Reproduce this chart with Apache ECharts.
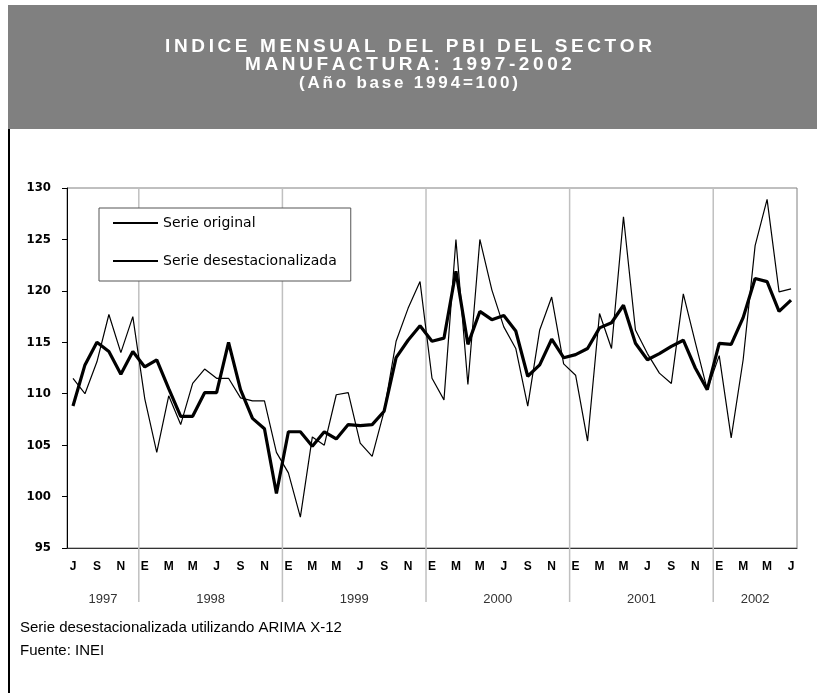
<!DOCTYPE html>
<html>
<head>
<meta charset="utf-8">
<script src="https://cdn.jsdelivr.net/npm/echarts@6/dist/echarts.min.js"></script>
<style>
html, body { margin: 0; padding: 0; background: #fff; }
#chart { width: 817px; height: 693px; }
</style>
</head>
<body>
<div id="chart"></div>
<script>
// iniciales de mes, jul 1997 - jul 2002
const meses = [
  'J', 'A', 'S', 'O', 'N', 'D',
  'E', 'F', 'M', 'A', 'M', 'J', 'J', 'A', 'S', 'O', 'N', 'D',
  'E', 'F', 'M', 'A', 'M', 'J', 'J', 'A', 'S', 'O', 'N', 'D',
  'E', 'F', 'M', 'A', 'M', 'J', 'J', 'A', 'S', 'O', 'N', 'D',
  'E', 'F', 'M', 'A', 'M', 'J', 'J', 'A', 'S', 'O', 'N', 'D',
  'E', 'F', 'M', 'A', 'M', 'J', 'J'
];
const anios = ['1997', '1998', '1999', '2000', '2001', '2002'];
// primer indice (mes) de cada anio
const inicioAnio = [0, 6, 18, 30, 42, 54];

const serieOriginal = [
  111.5, 110.0, 113.1, 117.7, 114.0, 117.5,
  109.5, 104.3, 109.8, 107.0, 111.0, 112.4, 111.5, 111.5, 109.6, 109.3, 109.3, 104.3,
  102.3, 98.0, 105.8, 105.0, 109.9, 110.1, 105.2, 103.9, 108.3, 115.1, 118.3, 120.9,
  111.5, 109.4, 125.0, 110.9, 125.0, 120.1, 116.5, 114.4, 108.8, 116.2, 119.4, 112.9,
  111.8, 105.4, 117.8, 114.4, 127.2, 116.2, 113.9, 112.0, 111.0, 119.7, 115.0, 110.4,
  113.7, 105.7, 113.3, 124.4, 128.9, 119.9, 120.2
];
const serieDesest = [
  108.8, 112.8, 115.0, 114.1, 111.9, 114.1,
  112.6, 113.3, 110.5, 107.8, 107.8, 110.1, 110.1, 115.0, 110.4, 107.6, 106.6, 100.3,
  106.3, 106.3, 104.9, 106.3, 105.6, 107.0, 106.9, 107.0, 108.3, 113.5, 115.2, 116.6,
  115.1, 115.4, 121.9, 114.8, 118.0, 117.2, 117.6, 116.1, 111.7, 112.8, 115.3, 113.5,
  113.8, 114.4, 116.4, 116.9, 118.6, 114.9, 113.3, 113.9, 114.6, 115.2, 112.5, 110.4,
  114.9, 114.8, 117.4, 121.2, 120.9, 118.0, 119.1
];

const titulo1 = 'INDICE MENSUAL DEL PBI DEL SECTOR';
const titulo2 = 'MANUFACTURA: 1997-2002';
const titulo3 = '(Año base 1994=100)';
const nota1 = 'Serie desestacionalizada utilizando ARIMA X-12';
const nota2 = 'Fuente: INEI';

// texto con espaciado entre letras (rich text)
function espaciado(s) {
  return s.split('').map(c => '{c|' + c + '}').join('');
}
function estiloTitulo(size, pad) {
  return {
    c: {
      color: '#fff',
      fontFamily: 'Liberation Sans, Arial, sans-serif',
      fontWeight: 'bold',
      fontSize: size,
      padding: [0, pad, 0, pad]
    }
  };
}

const chart = echarts.init(document.getElementById('chart'));

const option = {
  animation: false,
  backgroundColor: '#fff',
  title: [
    { text: espaciado(titulo1), left: 'center', top: 32, textStyle: { rich: estiloTitulo(19, 1.8) } },
    { text: espaciado(titulo2), left: 'center', top: 50, textStyle: { rich: estiloTitulo(19, 1.8) } },
    { text: espaciado(titulo3), left: 'center', top: 70, textStyle: { rich: estiloTitulo(17, 1.4) } }
  ],
  grid: {
    left: 67, right: 20, top: 188, bottom: 145,
    show: true, borderColor: '#808080', borderWidth: 1
  },
  legend: {
    orient: 'vertical',
    left: 99, top: 208,
    itemWidth: 45, itemHeight: 14, itemGap: 24,
    padding: [8, 14, 13, 13],
    backgroundColor: '#fff',
    borderColor: '#555', borderWidth: 1,
    z: 10,
    itemStyle: { color: 'rgba(0,0,0,0)', borderWidth: 0, opacity: 0 },
    textStyle: { fontFamily: 'DejaVu Sans, sans-serif', fontSize: 14, color: '#000' },
    data: ['Serie original', 'Serie desestacionalizada']
  },
  xAxis: {
    type: 'category',
    data: meses,
    boundaryGap: true,
    axisLine: { lineStyle: { color: '#333', width: 1 } },
    axisTick: { interval: 0, length: 4, lineStyle: { color: '#333' } },
    axisLabel: {
      interval: (i) => i % 2 === 0,
      margin: 13,
      color: '#000',
      fontFamily: 'Liberation Sans, Arial, sans-serif',
      fontWeight: 'bold',
      fontSize: 12
    },
    splitLine: { show: false }
  },
  yAxis: {
    type: 'value',
    min: 95, max: 130, interval: 5,
    axisLine: { show: true, lineStyle: { color: '#000', width: 1 } },
    axisTick: { show: true, length: 5, lineStyle: { color: '#000' } },
    axisLabel: {
      margin: 16,
      color: '#000',
      fontFamily: 'Liberation Sans Narrow, DejaVu Sans Condensed, sans-serif',
      fontWeight: 'bold',
      fontSize: 13
    },
    splitLine: { show: false }
  },
  series: [
    {
      name: 'Serie original',
      type: 'line',
      data: serieOriginal,
      symbol: 'none',
      lineStyle: { color: '#000', width: 1.2 },
      itemStyle: { color: '#000' },
      z: 3
    },
    {
      name: 'Serie desestacionalizada',
      type: 'line',
      data: serieDesest,
      symbol: 'none',
      lineStyle: { color: '#000', width: 3.2 },
      itemStyle: { color: '#000' },
      z: 4
    }
  ]
};

chart.setOption(option);

// separadores de anio y etiquetas de anio, ubicados con la escala del eje
const c0 = chart.convertToPixel({ xAxisIndex: 0 }, 0);
const c1 = chart.convertToPixel({ xAxisIndex: 0 }, 1);
const celda = c1 - c0;
const yTop = chart.convertToPixel({ yAxisIndex: 0 }, 130);
const xIni = c0 - celda / 2;
const xFin = chart.convertToPixel({ xAxisIndex: 0 }, meses.length - 1) + celda / 2;

const fuenteNota = '15px "Liberation Sans", Arial, sans-serif';
const graficos = [
  { type: 'rect', id: 'banner', z: 0, silent: true,
    shape: { x: 8, y: 5, width: 809, height: 124 }, style: { fill: '#808080' } },
  { type: 'line', id: 'borde', z: 0, silent: true,
    shape: { x1: 9, y1: 129, x2: 9, y2: 693 }, style: { stroke: '#000', lineWidth: 2 } },
  { type: 'text', id: 'nota1', x: 20, y: 628, silent: true,
    style: { text: nota1, fill: '#000', verticalAlign: 'middle', font: fuenteNota } },
  { type: 'text', id: 'nota2', x: 20, y: 651, silent: true,
    style: { text: nota2, fill: '#000', verticalAlign: 'middle', font: fuenteNota } }
];

const bordes = [xIni];
inicioAnio.forEach((idx, k) => {
  if (k > 0) {
    const x = chart.convertToPixel({ xAxisIndex: 0 }, idx) - celda / 2;
    bordes.push(x);
    graficos.push({
      type: 'line', id: 'sep' + k, z: 1, silent: true,
      shape: { x1: x, y1: yTop, x2: x, y2: 602 },
      style: { stroke: '#c0c0c0', lineWidth: 1.5 }
    });
  }
});
bordes.push(xFin);

anios.forEach((a, k) => {
  graficos.push({
    type: 'text', id: 'anio' + k, silent: true,
    x: (bordes[k] + bordes[k + 1]) / 2, y: 599,
    style: {
      text: a, fill: '#333', align: 'center', verticalAlign: 'middle',
      font: '13px "Liberation Sans", Arial, sans-serif'
    }
  });
});

chart.setOption({ graphic: graficos });
</script>
</body>
</html>
